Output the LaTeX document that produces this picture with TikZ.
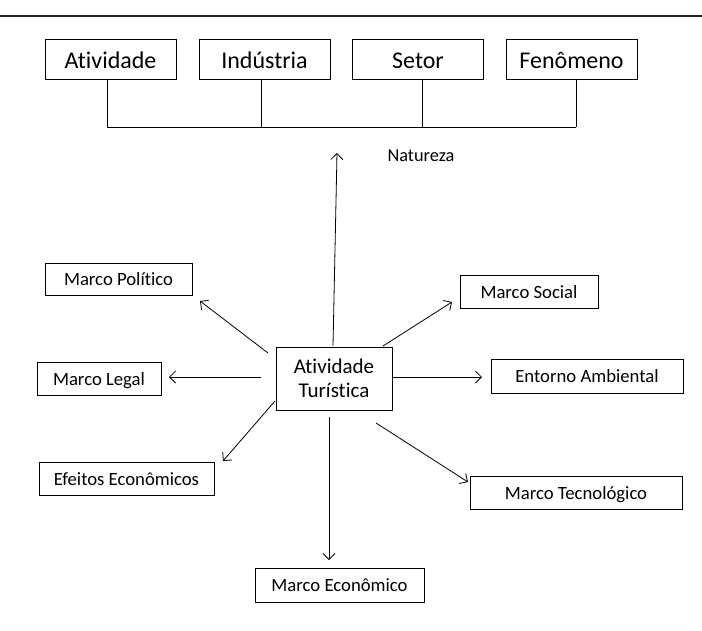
\documentclass[tikz,border=0pt]{standalone}
\usepackage{fontspec}
\setmainfont{Carlito}[RawFeature={-liga}]
\usetikzlibrary{arrows.meta}
\begin{document}
\begin{tikzpicture}[x=1pt,y=-1pt,
  box/.style={draw=black,line width=0.8pt,inner sep=0pt,align=center},
  topbox/.style={box,minimum width=131pt,minimum height=40pt,text height=22pt,text depth=3pt,font=\fontsize{24}{28}\selectfont},
  lbl/.style={box,minimum height=33pt,text height=16pt,text depth=3pt,font=\fontsize{18.7}{22}\selectfont},
  ln/.style={line width=0.8pt},
  arr/.style={line width=0.8pt,-{Straight Barb[length=6pt,width=12pt,line width=0.8pt]}}]
\useasboundingbox (0,0) rectangle (702,630);
\fill[white] (0,0) rectangle (702,630);
\coordinate (hl) at (0,16);
\coordinate (hr) at (702,16);
\draw[line width=1.1pt,black!85] (hl) -- (hr);

% top boxes
\node[topbox] (t1) at (110.5,59) {Atividade};
\node[topbox] (t2) at (264.5,59) {Indústria};
\node[topbox] (t3) at (418,59) {Setor};
\node[topbox] (t4) at (571.5,59) {Fenômeno};
\coordinate (b1) at (107,127);
\coordinate (b2) at (261,127);
\coordinate (b3) at (422,127);
\coordinate (b4) at (576,127);
\draw[ln] (t1.south -| b1) -- (b1);
\draw[ln] (t2.south -| b2) -- (b2);
\draw[ln] (t3.south -| b3) -- (b3);
\draw[ln] (t4.south -| b4) -- (b4);
\draw[ln] (b1) -- (b4);

% centre
\node[box,minimum width=116pt,minimum height=63pt,font=\fontsize{21}{25}\selectfont] (c) at (334,378.5) {Atividade\\[-1pt]Turística};

\node[font=\fontsize{18.3}{22}\selectfont,inner sep=0pt] (nat) at (421,156) {Natureza};

\node[lbl,minimum width=138pt] (soc) at (529,291.5) {Marco Social};
\node[lbl,minimum width=192pt,minimum height=34pt] (amb) at (587,376) {Entorno Ambiental};
\node[lbl,minimum width=212pt] (tec) at (576,492.5) {Marco Tecnológico};
\node[lbl,minimum width=169pt,minimum height=34pt] (eco) at (339.5,585) {Marco Econômico};
\node[lbl,minimum width=147pt,minimum height=32pt] (pol) at (118.5,279) {Marco Político};
\node[lbl,minimum width=124pt] (leg) at (99,378.5) {Marco Legal};
\node[lbl,minimum width=175pt] (efe) at (126.5,478.5) {Efeitos Econômicos};

% arrow ends
\coordinate (n0) at (333,346);  \coordinate (n1) at (337,153);
\coordinate (s0) at (383,346);  \coordinate (s1) at (452,302);
\coordinate (a0) at (392,377);  \coordinate (a1) at (482,377);
\coordinate (k0) at (376,423);  \coordinate (k1) at (468,482);
\coordinate (e0) at (329,417);  \coordinate (e1) at (329,560);
\coordinate (p0) at (268,353);  \coordinate (p1) at (200,301);
\coordinate (l0) at (261,377);  \coordinate (l1) at (169,377);
\coordinate (f0) at (275,401);  \coordinate (f1) at (223,461);

\draw[arr] (n0) -- (n1);
\draw[arr] (s0) -- (s1);
\draw[arr] (a0) -- (a1);
\draw[arr] (k0) -- (k1);
\draw[arr] (e0) -- (e1);
\draw[arr] (p0) -- (p1);
\draw[arr] (l0) -- (l1);
\draw[arr] (f0) -- (f1);
\end{tikzpicture}
\end{document}
